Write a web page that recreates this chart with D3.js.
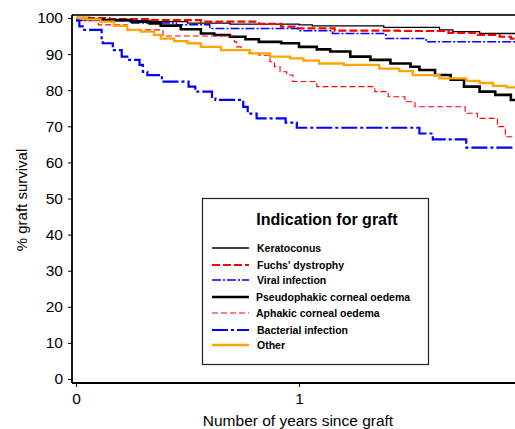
<!DOCTYPE html>
<html>
<head>
<meta charset="utf-8">
<script src="https://cdn.jsdelivr.net/npm/d3@7"></script>
<style>
  body { margin: 0; background: #fff; }
  text { font-family: Arial, "Liberation Sans", sans-serif; }
</style>
</head>
<body>
<div id="chart"></div>
<script>
// tick values
var yTicks = [0, 10, 20, 30, 40, 50, 60, 70, 80, 90, 100];
var xTicks = [0, 1];

// legend order
var seriesNames = ["Keratoconus", "Fuchs' dystrophy", "Viral infection",
  "Pseudophakic corneal oedema", "Aphakic corneal oedema", "Bacterial infection", "Other"];

// survival curves, [years, % surviving]
var keratoconus = [[0, 100], [0.05, 99.6], [0.11, 99.3], [0.33, 99.0], [0.5, 98.6], [0.69, 98.3],
  [1.0, 98.1], [1.06, 97.8], [1.38, 97.4], [1.63, 96.7], [1.69, 96.2], [1.81, 95.7], [2.0, 95.7]];
var fuchs = [[0, 100], [0.15, 99.7], [0.33, 99.4], [0.56, 99.0], [0.82, 98.4], [0.92, 97.6],
  [0.98, 97.1], [1.16, 96.5], [1.45, 96.4], [1.67, 95.9], [1.79, 95.3], [1.9, 94.8], [1.95, 94.3], [2.0, 94.3]];
var viral = [[0, 100], [0.01, 99.3], [0.24, 98.6], [0.45, 98.1], [0.6, 97.1], [1.0, 96.5],
  [1.15, 95.7], [1.39, 94.3], [1.57, 93.4], [2.0, 93.4]];
var pseudophakic = [[0, 100], [0.06, 99.6], [0.12, 99.4], [0.25, 99.0], [0.33, 98.5], [0.38, 97.9],
  [0.47, 96.9], [0.56, 95.7], [0.62, 95.3], [0.69, 94.8], [0.76, 94.1], [0.82, 93.4], [0.92, 93.0],
  [1.0, 92.0], [1.08, 91.3], [1.14, 90.7], [1.23, 89.3], [1.32, 88.4], [1.41, 87.4], [1.5, 86.5],
  [1.54, 85.6], [1.61, 84.2], [1.68, 82.9], [1.74, 81.0], [1.81, 79.6], [1.88, 78.7], [1.95, 77.3], [2.0, 77.3]];
var aphakic = [[0, 100], [0.03, 99.3], [0.1, 98.1], [0.23, 96.7], [0.39, 95.0], [0.71, 93.4],
  [0.72, 92.0], [0.74, 91.1], [0.77, 90.3], [0.82, 89.7], [0.87, 87.9], [0.89, 86.5], [0.915, 85.1],
  [0.945, 84.2], [0.973, 82.4], [1.08, 81.0], [1.34, 79.6], [1.4, 78.2], [1.475, 76.8], [1.52, 75.4],
  [1.745, 73.6], [1.8, 72.2], [1.89, 69.9], [1.925, 67.1], [2.0, 67.1]];
var bacterial = [[0, 100], [0.005, 99.3], [0.015, 97.7], [0.03, 96.7], [0.115, 94.0], [0.12, 93.0],
  [0.165, 91.1], [0.205, 89.3], [0.23, 88.4], [0.285, 87.0], [0.3, 85.1], [0.32, 84.2], [0.385, 82.4],
  [0.505, 81.0], [0.535, 79.6], [0.61, 77.7], [0.625, 77.3], [0.75, 75.4], [0.77, 73.5], [0.81, 72.2],
  [0.94, 71.0], [0.99, 69.6], [1.54, 68.0], [1.6, 66.4], [1.75, 64.1], [2.0, 64.1]];
var other = [[0, 100], [0.05, 99.6], [0.11, 99.0], [0.17, 97.8], [0.23, 96.7], [0.29, 96.2],
  [0.35, 95.3], [0.38, 94.3], [0.44, 93.6], [0.5, 93.0], [0.56, 92.0], [0.65, 91.1], [0.78, 90.2],
  [0.87, 89.3], [0.96, 88.8], [1.02, 88.2], [1.09, 87.4], [1.2, 87.0], [1.36, 86.0], [1.45, 85.3],
  [1.51, 84.2], [1.63, 83.3], [1.75, 82.6], [1.81, 82.0], [1.87, 81.2], [1.93, 80.8], [2.0, 80.8]];

var allSeries = [keratoconus, fuchs, viral, pseudophakic, aphakic, bacterial, other];

// how each curve is drawn (same order as seriesNames)
var looks = [
  { color: "#000", width: 1.3, dash: null },
  { color: "#ff0000", width: 2.2, dash: "8,3" },
  { color: "#0000ff", width: 1.5, dash: "9,2,2,2" },
  { color: "#000", width: 2.6, dash: null },
  { color: "#ff0000", width: 1.1, dash: "6,3" },
  { color: "#0000ff", width: 2.2, dash: "16,3,3,3" },
  { color: "#ffa500", width: 2.3, dash: null }
];

var W = 515, H = 429;
var plotL = 72, plotT = 15, plotB = 383, plotR = 515;

var x = d3.scaleLinear().domain([0, 1]).range([76, 299]);
var y = d3.scaleLinear().domain([0, 100]).range([379, 18]);

var svg = d3.select("#chart")
  .append("svg")
  .attr("width", W)
  .attr("height", H);

svg.append("defs").append("clipPath")
  .attr("id", "plotclip")
  .append("rect")
  .attr("x", plotL)
  .attr("y", plotT)
  .attr("width", plotR - plotL)
  .attr("height", plotB - plotT);

// curves
var line = d3.line()
  .x(function(d) { return x(d[0]); })
  .y(function(d) { return y(d[1]); })
  .curve(d3.curveStepAfter);

var curves = svg.append("g").attr("clip-path", "url(#plotclip)");
allSeries.forEach(function(s, i) {
  curves.append("path")
    .attr("d", line(s))
    .attr("fill", "none")
    .attr("stroke", looks[i].color)
    .attr("stroke-width", looks[i].width)
    .attr("stroke-dasharray", looks[i].dash);
});

// frame: top border, left and bottom axis lines
svg.append("line").attr("x1", plotL).attr("x2", plotR).attr("y1", plotT).attr("y2", plotT)
  .attr("stroke", "#333").attr("stroke-width", 2);
svg.append("line").attr("x1", plotL).attr("x2", plotL).attr("y1", plotT).attr("y2", plotB)
  .attr("stroke", "#000").attr("stroke-width", 1.8);
svg.append("line").attr("x1", plotL).attr("x2", plotR).attr("y1", plotB).attr("y2", plotB)
  .attr("stroke", "#000").attr("stroke-width", 1.8);

// y axis ticks and labels
var yAxis = svg.append("g")
  .attr("transform", "translate(" + plotL + ",0)")
  .call(d3.axisLeft(y).tickValues(yTicks).tickSize(4).tickPadding(5));
yAxis.select(".domain").remove();
yAxis.selectAll("text").attr("font-size", 15.5).attr("fill", "#000").attr("font-family", "Arial, 'Liberation Sans', sans-serif");

// x axis ticks and labels
var xAxis = svg.append("g")
  .attr("transform", "translate(0," + plotB + ")")
  .call(d3.axisBottom(x).tickValues(xTicks).tickFormat(d3.format("d")).tickSize(4).tickPadding(6));
xAxis.select(".domain").remove();
xAxis.selectAll("text").attr("font-size", 15.5).attr("fill", "#000").attr("font-family", "Arial, 'Liberation Sans', sans-serif");

// axis titles
svg.append("text")
  .attr("x", 298)
  .attr("y", 426)
  .attr("text-anchor", "middle")
  .attr("font-size", 15.5)
  .text("Number of years since graft");

svg.append("text")
  .attr("transform", "translate(27,200) rotate(-90)")
  .attr("text-anchor", "middle")
  .attr("font-size", 15)
  .text("% graft survival");

// legend
var legend = svg.append("g");
legend.append("rect")
  .attr("x", 202.5).attr("y", 198.5)
  .attr("width", 226).attr("height", 166)
  .attr("fill", "#fff")
  .attr("stroke", "#222")
  .attr("stroke-width", 1.2);

legend.append("text")
  .attr("x", 327).attr("y", 225)
  .attr("text-anchor", "middle")
  .attr("font-size", 16)
  .attr("font-weight", "bold")
  .text("Indication for graft");

var rowY = [248, 265, 280, 297, 313, 330, 345];
seriesNames.forEach(function(name, i) {
  legend.append("line")
    .attr("x1", 212).attr("x2", 249)
    .attr("y1", rowY[i]).attr("y2", rowY[i])
    .attr("stroke", looks[i].color)
    .attr("stroke-width", looks[i].width)
    .attr("stroke-dasharray", looks[i].dash);
  legend.append("text")
    .attr("x", i == 3 || i == 4 ? 256 : 257)
    .attr("y", rowY[i] + 3.5)
    .attr("font-size", 10.5)
    .attr("font-weight", "bold")
    .text(name);
});
</script>
</body>
</html>
